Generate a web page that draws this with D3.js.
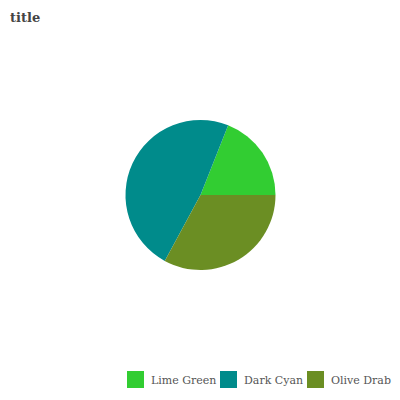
<!DOCTYPE html>
<html lang="en">
<head>
    <meta charset="UTF-8">
    <title>Pie Chart</title>
    <script src="https://d3js.org/d3.v7.min.js"></script>
    <style>
        body { margin: 0; padding: 0; background: #fff; }
        svg { display: block; }
        text { font-family: "DejaVu Serif", serif; }
    </style>
</head>
<body>
    <div id="chart"></div>
    <script>
        // data
        const categories = ["Lime Green", "Dark Cyan", "Olive Drab"];
        const values = [15, 38, 26];
        const colors = ["#32cd32", "#008b8b", "#6b8e23"];

        var w = 400;
        var h = 400;
        var radius = 75;

        var svg = d3.select("#chart")
            .append("svg")
            .attr("width", w)
            .attr("height", h);

        svg.append("text")
            .attr("x", 10)
            .attr("y", 22)
            .attr("font-size", 13)
            .attr("font-weight", "bold")
            .attr("fill", "#444")
            .text("title");

        var color = d3.scaleOrdinal().domain(categories).range(colors);

        // slices go counterclockwise from 3 o'clock, in legend order
        var pie = d3.pie()
            .sort(null)
            .startAngle(Math.PI / 2)
            .endAngle(Math.PI / 2 - 2 * Math.PI);

        var arc = d3.arc().innerRadius(0).outerRadius(radius);

        var g = svg.append("g")
            .attr("transform", "translate(200.5,195)");

        g.selectAll("path")
            .data(pie(values))
            .enter()
            .append("path")
            .attr("d", arc)
            .attr("fill", (d, i) => color(categories[i]));

        // legend
        var legendX = [127, 220, 307];
        var legend = svg.append("g")
            .selectAll("g")
            .data(categories)
            .enter()
            .append("g")
            .attr("transform", (d, i) => `translate(${legendX[i]},371)`);

        legend.append("rect")
            .attr("width", 17)
            .attr("height", 17)
            .attr("fill", (d) => color(d));

        legend.append("text")
            .attr("x", 24)
            .attr("y", 12.5)
            .attr("font-size", 11)
            .attr("fill", "#555")
            .text((d) => d);
    </script>
</body>
</html>
